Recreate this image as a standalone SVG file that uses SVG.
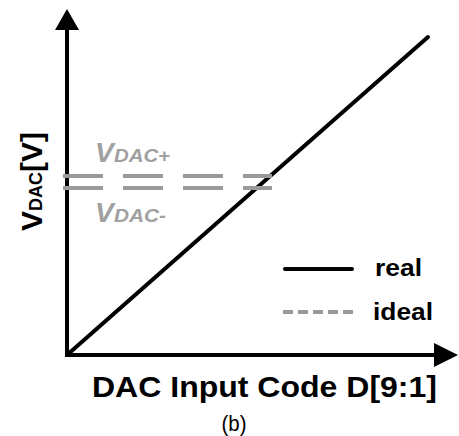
<svg xmlns="http://www.w3.org/2000/svg" width="459" height="436" viewBox="0 0 459 436">
<style>
.ax{stroke:#000;stroke-width:4;fill:none}
.real{stroke:#000;stroke-width:4;fill:none;stroke-linecap:round}
.ideal{stroke:#9a9a9a;stroke-width:4;fill:none}
.lbl{font-family:"Liberation Sans",Arial,sans-serif;font-weight:bold;fill:#000}
.gl{font-family:"Liberation Sans",Arial,sans-serif;font-weight:bold;font-style:italic;fill:#a0a0a0}
</style>
<rect width="459" height="436" fill="#fff"/>
<g id="connectors">
<line class="ax" x1="67" y1="357" x2="67" y2="28"/>
<polygon points="67,9 55,30 79,30" fill="#000"/>
<line class="ax" x1="65" y1="355" x2="436" y2="355"/>
<polygon points="458,355 434,343 434,367" fill="#000"/>
<line class="real" x1="67" y1="355" x2="428" y2="37"/>
<line class="ideal" x1="63" y1="176" x2="272" y2="176" stroke-dasharray="40,20"/>
<line class="ideal" x1="63" y1="188" x2="272" y2="188" stroke-dasharray="40,20"/>
</g>
<g id="ylabel">
<text class="lbl" transform="translate(42,231) rotate(-90)" font-size="30">V<tspan font-size="18">DAC</tspan>[V]</text>
</g>
<g id="xlabel">
<text class="lbl" x="92" y="397" font-size="30" textLength="345" lengthAdjust="spacingAndGlyphs">DAC Input Code D[9:1]</text>
</g>
<g id="vdacp">
<text class="gl" x="95" y="162" font-size="28">V</text>
<text class="gl" x="114" y="162" font-size="18" textLength="56" lengthAdjust="spacingAndGlyphs">DAC+</text>
</g>
<g id="vdacm">
<text class="gl" x="95" y="222" font-size="28">V</text>
<text class="gl" x="114" y="222" font-size="18" textLength="52" lengthAdjust="spacingAndGlyphs">DAC-</text>
</g>
<g id="legend">
<line class="real" x1="285" y1="269" x2="352" y2="269"/>
<text class="lbl" x="375" y="276" font-size="23" textLength="47" lengthAdjust="spacingAndGlyphs">real</text>
<line class="ideal" x1="283" y1="312" x2="353" y2="312" stroke-dasharray="10,5"/>
<text class="lbl" x="373" y="320" font-size="23" textLength="60" lengthAdjust="spacingAndGlyphs">ideal</text>
</g>
<g id="caption">
<text x="234" y="431" font-family="'Liberation Sans',Arial,sans-serif" font-size="22" text-anchor="middle" fill="#000" textLength="25" lengthAdjust="spacingAndGlyphs">(b)</text>
</g>
</svg>
